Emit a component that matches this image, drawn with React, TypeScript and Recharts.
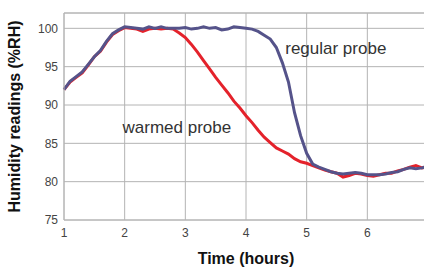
import { CartesianGrid, Label, Line, LineChart, ReferenceDot, ReferenceLine, XAxis, YAxis } from "recharts";

const hours = [
  1.0, 1.1, 1.2, 1.3, 1.4, 1.5, 1.6, 1.7, 1.8, 1.9,
  2.0, 2.1, 2.2, 2.3, 2.4, 2.5, 2.6, 2.7, 2.8, 2.9,
  3.0, 3.1, 3.2, 3.3, 3.4, 3.5, 3.6, 3.7, 3.8, 3.9,
  4.0, 4.1, 4.2, 4.3, 4.4, 4.5, 4.6, 4.7, 4.8, 4.9,
  5.0, 5.1, 5.2, 5.3, 5.4, 5.5, 5.6, 5.7, 5.8, 5.9,
  6.0, 6.1, 6.2, 6.3, 6.4, 6.5, 6.6, 6.7, 6.8, 6.9,
  7.0,
];

const warmed = [
  92.0, 93.0, 93.6, 94.2, 95.2, 96.3, 97.0, 98.2, 99.2, 99.7,
  100.1, 100.0, 99.9, 99.6, 99.9, 100.0, 99.9, 100.0, 99.9, 99.4,
  98.8, 97.9, 96.9, 95.8, 94.7, 93.6, 92.6, 91.6, 90.5, 89.6,
  88.6, 87.7, 86.7, 85.8, 85.1, 84.4, 84.0, 83.6, 83.0, 82.6,
  82.4, 82.1, 81.8, 81.5, 81.3, 81.1, 80.6, 80.8, 81.1, 81.0,
  80.8, 80.7, 80.9, 81.1, 81.1, 81.4, 81.6, 81.9, 82.1, 81.8,
  82.0,
];

const regular = [
  92.0, 93.1, 93.7, 94.3, 95.3, 96.3, 97.1, 98.3, 99.3, 99.8,
  100.2, 100.1, 100.0, 99.9, 100.2, 100.0, 100.2, 100.0, 100.0, 100.0,
  100.1, 99.9, 100.0, 100.2, 100.0, 100.1, 99.8, 99.9, 100.2, 100.1,
  100.0, 99.9, 99.6, 99.1, 98.6, 97.5, 95.5, 93.0, 89.0, 86.0,
  83.7, 82.3, 81.9, 81.6, 81.3, 81.1, 81.0, 81.1, 81.2, 81.1,
  80.9, 80.9, 80.9, 81.0, 81.2, 81.3, 81.6, 81.8, 81.7, 81.8,
  82.0,
];

const xTicks = [1, 2, 3, 4, 5, 6, 7];
const yTicks = [75, 80, 85, 90, 95, 100];

const data = hours.map((t, i) => ({ t, warmed: warmed[i], regular: regular[i] }));

const GRID = "#b4b4b4";
const FONT = "'Liberation Sans', Arial, sans-serif";

export default function App() {
  return (
    <div style={{ position: "fixed", left: 0, top: 0, width: 424, height: 267, overflow: "hidden", background: "#fff" }}>
      <LineChart width={440} height={267} data={data} margin={{ top: 13, right: 12, left: 0, bottom: 0 }}>
        <CartesianGrid stroke={GRID} strokeWidth={1} />
        <ReferenceLine y={102} stroke={GRID} />
        <XAxis
          type="number"
          dataKey="t"
          domain={[1, 7]}
          ticks={xTicks}
          height={47}
          axisLine={{ stroke: GRID }}
          tickLine={false}
          tick={{ fontSize: 12, fill: "#444", fontFamily: FONT }}
        >
          <Label
            value="Time (hours)"
            position="insideBottom"
            offset={3}
            style={{ fontSize: 16, fontWeight: 700, fill: "#111", fontFamily: FONT }}
          />
        </XAxis>
        <YAxis
          type="number"
          domain={[75, 102]}
          ticks={yTicks}
          width={64}
          axisLine={{ stroke: GRID }}
          tickLine={false}
          tickSize={4}
          tick={{ fontSize: 12, fill: "#444", fontFamily: FONT }}
        >
          <Label
            value="Humidity readings (%RH)"
            angle={-90}
            position="insideLeft"
            offset={14}
            style={{ textAnchor: "middle", fontSize: 16, fontWeight: 700, fill: "#111", fontFamily: FONT }}
          />
        </YAxis>
        <Line type="linear" dataKey="warmed" stroke="#e4222b" strokeWidth={3} dot={false} isAnimationActive={false} />
        <Line type="linear" dataKey="regular" stroke="#55538a" strokeWidth={3} dot={false} isAnimationActive={false} />
        <ReferenceDot
          x={5.48}
          y={97.5}
          r={0}
          label={{ value: "regular probe", position: "center", fontSize: 17, fill: "#333", fontFamily: FONT }}
        />
        <ReferenceDot
          x={2.86}
          y={87.1}
          r={0}
          label={{ value: "warmed probe", position: "center", fontSize: 17, fill: "#333", fontFamily: FONT }}
        />
      </LineChart>
    </div>
  );
}
